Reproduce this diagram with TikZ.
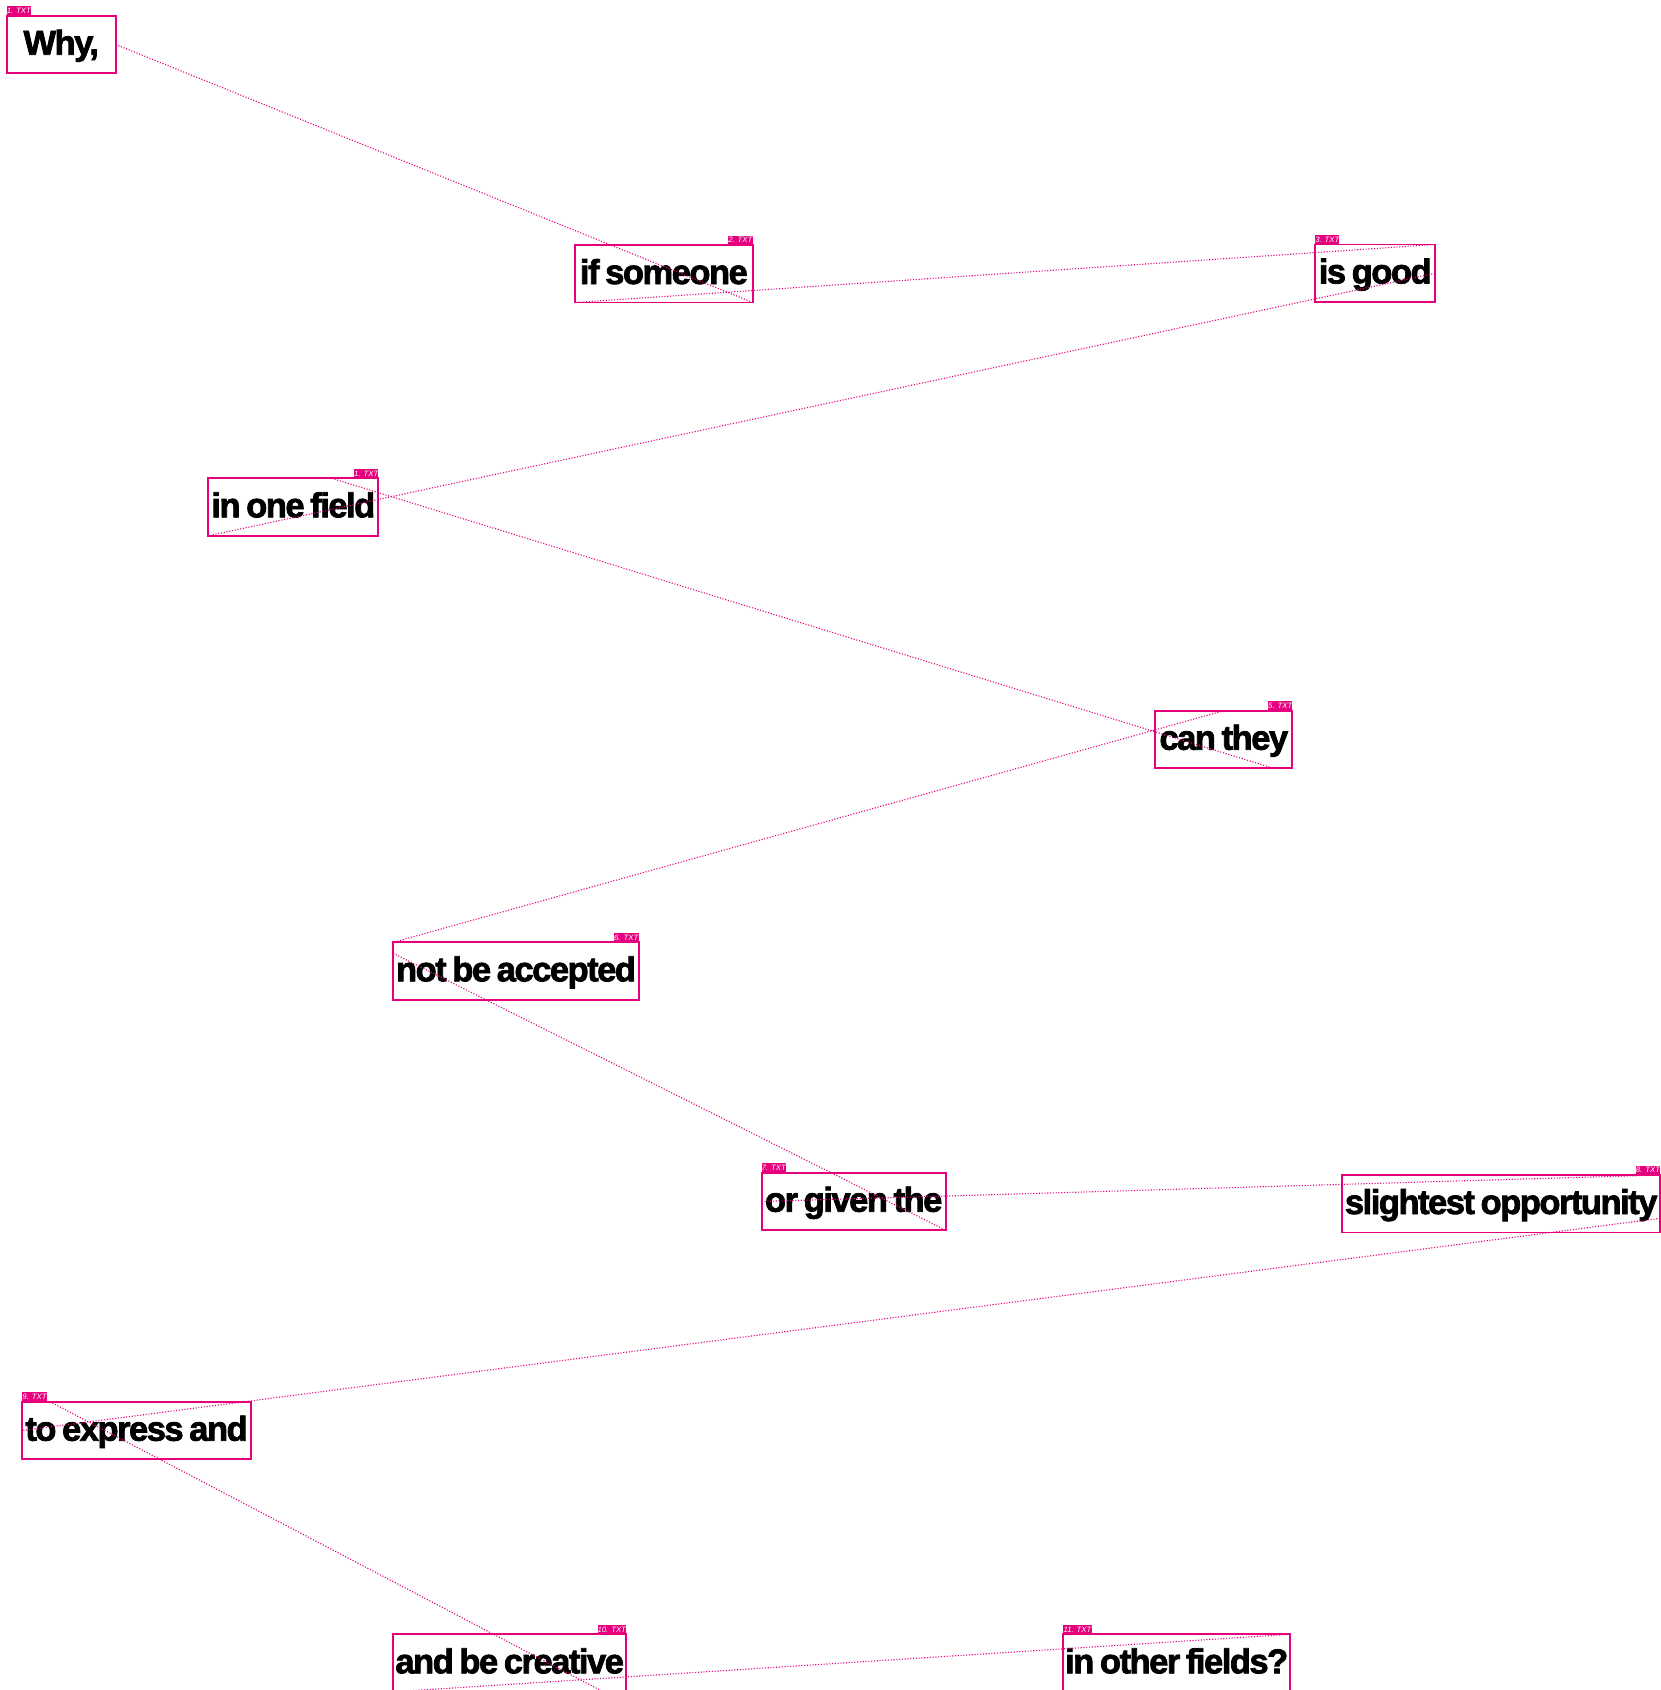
\documentclass[tikz,border=0pt]{standalone}
\usepackage{fontspec}
\setmainfont{Liberation Sans}
\newfontfamily\wordfont[LetterSpace=-4.3,FakeBold=2.2,WordSpace=0.7]{Liberation Sans Bold}
\newfontfamily\tabfont{Liberation Sans Italic}
\usetikzlibrary{calc}
\definecolor{mag}{RGB}{230,0,126}
\tikzset{
  wordbox/.style={draw=mag, line width=1.8pt, inner sep=0pt, outer sep=0pt,
    minimum height=57.5pt, anchor=north west, text height=26.5pt, text depth=6pt,
    font=\wordfont\fontsize{34.5}{34.5}\selectfont, text=black},
  tabL/.style={fill=mag, text=white, inner sep=0pt, outer sep=0pt,
    minimum height=9.5pt, anchor=south west, font=\tabfont\fontsize{7.8}{7.8}\selectfont},
  tabR/.style={tabL, anchor=south east},
  link/.style={draw=mag, line width=1.1pt, dash pattern=on 1.1pt off 1.7pt}
}
\begin{document}
\begin{tikzpicture}[x=1pt,y=-1pt]
\useasboundingbox[fill=white] (0,0) rectangle (1661,1690);
% boxes
\node[wordbox, minimum width=109pt]   (b1)  at (6.7,15.7)    {Why,};
\node[wordbox, minimum width=177.7pt] (b2)  at (575,245)     {if someone};
\node[wordbox, minimum width=119.7pt] (b3)  at (1315.3,244.5) {is good};
\node[wordbox, minimum width=170pt]   (b4)  at (208.3,478.3) {in one field};
\node[wordbox, minimum width=137pt]   (b5)  at (1155.3,710.7) {can they};
\node[wordbox, minimum width=245.4pt] (b6)  at (393.3,942.3) {not be accepted};
\node[wordbox, minimum width=184pt]   (b7)  at (761.7,1172.7) {or given the};
\node[wordbox, minimum width=317.7pt] (b8)  at (1342.3,1175) {slightest opportunity};
\node[wordbox, minimum width=228.4pt] (b9)  at (22.3,1401.7) {to express and};
\node[wordbox, minimum width=232.7pt] (b10) at (393.3,1634.3) {and be creative};
\node[wordbox, minimum width=226.7pt] (b11) at (1063.3,1634.3) {in other fields?};
% tabs
\node[tabL, minimum width=24.3pt] (t1)  at (b1.north west)  {1. TXT};
\node[tabR, minimum width=24.7pt] (t2)  at (b2.north east)  {2. TXT};
\node[tabL, minimum width=24pt]   (t3)  at (b3.north west)  {3. TXT};
\node[tabR, minimum width=24pt]   (t4)  at (b4.north east)  {1. TXT};
\node[tabR, minimum width=24pt]   (t5)  at (b5.north east)  {5. TXT};
\node[tabR, minimum width=25pt]   (t6)  at (b6.north east)  {6. TXT};
\node[tabL, minimum width=23.3pt] (t7)  at (b7.north west)  {7. TXT};
\node[tabR, minimum width=23.3pt] (t8)  at (b8.north east)  {8. TXT};
\node[tabL, minimum width=24.4pt] (t9)  at (b9.north west)  {9. TXT};
\node[tabR, minimum width=28pt]   (t10) at (b10.north east) {10. TXT};
\node[tabL, minimum width=28.4pt] (t11) at (b11.north west) {11. TXT};
% connectors
\draw[link] (b1.east) -- (b2.south east);
\draw[link] (b2.south west) -- (b3.north east);
\draw[link] (b3.east) -- (b4.south west);
\draw[link] ($(b4.north west)+(123.5,0)$) -- ($(b5.south west)+(118,0)$);
\draw[link] (b5.north) -- (b6.north west);
\draw[link] ($(b6.north west)+(0,11)$) -- (b7.south east);
\draw[link] (b7.west) -- (b8.north east);
\draw[link] ($(b8.north east)+(0,43.3)$) -- (b9.west);
\draw[link] ($(b9.north west)+(27.7,0)$) -- ($(b10.north west)+(210,57.5)$);
\draw[link] (b10.south west) -- (b11.north east);
\end{tikzpicture}
\end{document}
